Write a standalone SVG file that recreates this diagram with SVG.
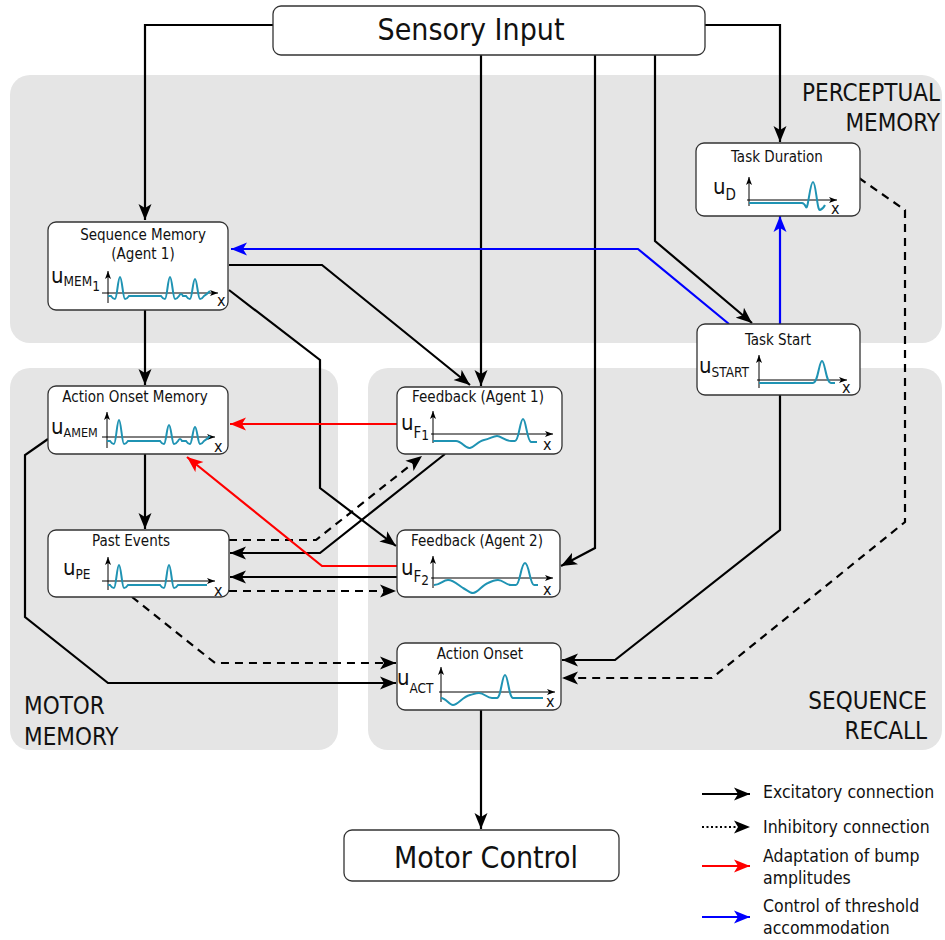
<svg xmlns="http://www.w3.org/2000/svg" width="945" height="940" viewBox="0 0 945 940">
<style>
text{font-family:"DejaVu Sans Condensed","DejaVu Sans",sans-serif;font-stretch:condensed;fill:#111}
.region{fill:#e5e5e5}
.rl{font-size:24px}
.node rect{fill:#fff;stroke:#333;stroke-width:1.3}
.big{font-size:30px}
.ttl{font-size:15px}
.u{font-size:22px}
.s{font-size:15px}
.ss{font-size:13.5px}
.ax{stroke:#000;stroke-width:1;fill:none;marker-end:url(#sa)}
.cv{stroke:#1f93b3;stroke-width:2;fill:none}
.xl{font-size:16px}
.ex{stroke:#000;stroke-width:2.2;fill:none;marker-end:url(#ab)}
.inh{stroke:#000;stroke-width:2.2;fill:none;stroke-dasharray:8,6;marker-end:url(#ab)}
.red{stroke:#f00;stroke-width:2.2;fill:none;marker-end:url(#ar)}
.blue{stroke:#00f;stroke-width:2.2;fill:none;marker-end:url(#abl)}
.lg{font-size:17.5px}
</style>
<defs>
<marker id="ab" markerWidth="17" markerHeight="14" refX="16" refY="7" orient="auto" markerUnits="userSpaceOnUse"><path d="M0,0.5 L16,7 L0,13.5 L4,7 z" fill="#000"/></marker>
<marker id="ar" markerWidth="17" markerHeight="14" refX="16" refY="7" orient="auto" markerUnits="userSpaceOnUse"><path d="M0,0.5 L16,7 L0,13.5 L4,7 z" fill="#f00"/></marker>
<marker id="abl" markerWidth="17" markerHeight="14" refX="16" refY="7" orient="auto" markerUnits="userSpaceOnUse"><path d="M0,0.5 L16,7 L0,13.5 L4,7 z" fill="#00f"/></marker>
<marker id="sa" markerWidth="9" markerHeight="7" refX="8" refY="3.5" orient="auto" markerUnits="userSpaceOnUse"><path d="M0,0.5 L8,3.5 L0,6.5 L2,3.5 z" fill="#000"/></marker>
</defs>

<g id="regions">
<rect class="region" x="10" y="75" width="932" height="268" rx="20"/>
<rect class="region" x="10" y="368" width="328" height="382" rx="20"/>
<rect class="region" x="368" y="368" width="574" height="382" rx="20"/>
<text class="rl" x="940" y="101" text-anchor="end">PERCEPTUAL</text>
<text class="rl" x="940" y="131" text-anchor="end">MEMORY</text>
<text class="rl" x="24" y="714">MOTOR</text>
<text class="rl" x="24" y="745">MEMORY</text>
<text class="rl" x="927" y="709" text-anchor="end">SEQUENCE</text>
<text class="rl" x="927" y="739" text-anchor="end">RECALL</text>
</g>

<g id="connectors">
<path class="ex" d="M273,25 H145 V220"/>
<path class="ex" d="M481,55 V386"/>
<path class="ex" d="M595,55 V548 L561,566"/>
<path class="ex" d="M655,55 V241 L752,323"/>
<path class="ex" d="M705,25 H780 V142"/>
<path class="ex" d="M229,265 H322 L470,385"/>
<path class="ex" d="M229,290 L320,360 V488 L396,546"/>
<path class="ex" d="M145,310 V385"/>
<path class="ex" d="M145,454 V529"/>
<path class="ex" d="M445,454 L320,553 H230"/>
<path class="ex" d="M397,577 H230"/>
<path class="ex" d="M48,439 L25,455 V617 L108,683 H396"/>
<path class="ex" d="M780,395 V530 L615,660 H562"/>
<path class="ex" d="M481,710 V829"/>
<path class="inh" d="M859,178 L905,210 V522 L712,678 H562"/>
<path class="inh" d="M229,540 H316 L422,456"/>
<path class="inh" d="M229,591 H396"/>
<path class="inh" d="M132,597 L215,663 H396"/>
<path class="red" d="M397,424 H230"/>
<path class="red" d="M397,566 H322 L187,457"/>
<path class="blue" d="M729,324 L638,249 H231"/>
<path class="blue" d="M780,324 V216"/>
</g>

<g id="sensory-input" class="node">
<rect x="273" y="6" width="432" height="49" rx="8"/>
<text class="big" x="471" y="40" text-anchor="middle">Sensory Input</text>
</g>

<g id="motor-control" class="node">
<rect x="344" y="830" width="275" height="51" rx="8"/>
<text class="big" x="486" y="868" text-anchor="middle">Motor Control</text>
</g>

<g id="task-duration" class="node">
<rect x="696" y="143" width="164" height="73" rx="8"/>
<text class="ttl" x="777" y="162" text-anchor="middle">Task Duration</text>
<text class="u" x="713" y="194">u<tspan class="s" dy="6">D</tspan></text>
<path class="ax" d="M749,206 V177"/>
<path class="ax" d="M747,200 H837"/>
<path class="cv" d="M749,203 H802 Q804,203 806,207 C808,211 810,182 813,182 C816,182 817,211 820,210 Q823,209 825,205"/>
<text class="xl" x="831" y="214">x</text>
</g>

<g id="sequence-memory" class="node">
<rect x="48" y="222" width="180" height="88" rx="8"/>
<text class="ttl" x="143" y="240" text-anchor="middle">Sequence Memory</text>
<text class="ttl" x="143" y="259" text-anchor="middle">(Agent 1)</text>
<text class="u" x="51" y="283">u<tspan class="ss" dy="3">MEM</tspan><tspan class="ss" dy="5">1</tspan></text>
<path class="ax" d="M108,303 V271"/>
<path class="ax" d="M102,293 H218"/>
<path class="cv" d="M108,296 L111,296 q2,3 4,3 c2,0 3,-22 5,-22 c2,0 3,22 5,22 q2,0 4,-3 L161,296 q2,3 4,3 c2,0 3,-22 5,-22 c2,0 3,22 5,22 q2,0 4,-3 q2,-4 4,0 L186,296 q2,3 4,3 c2,0 3,-20 5,-20 c2,0 3,20 5,20 q2,0 4,-3 q3,-2 6,-5"/>
<text class="xl" x="217" y="306">x</text>
</g>

<g id="task-start" class="node">
<rect x="697" y="324" width="163" height="71" rx="8"/>
<text class="ttl" x="778" y="345" text-anchor="middle">Task Start</text>
<text class="u" x="699" y="373">u<tspan class="ss" dy="4">START</tspan></text>
<path class="ax" d="M759,388 V355"/>
<path class="ax" d="M757,380 H847"/>
<path class="cv" d="M759,383 H813 C818,383 819,361 822,361 C825,361 826,383 831,383 L835,383"/>
<text class="xl" x="842" y="393">x</text>
</g>

<g id="action-onset-memory" class="node">
<rect x="48" y="386" width="180" height="68" rx="8"/>
<text class="ttl" x="135" y="402" text-anchor="middle">Action Onset Memory</text>
<text class="u" x="51" y="434">u<tspan class="ss" dy="3" style="font-size:12.5px">AMEM</tspan></text>
<path class="ax" d="M107,448 V412"/>
<path class="ax" d="M102,437 H215"/>
<path class="cv" d="M107,441 L110,441 q2,3 4,3 c2,0 3,-24 5,-24 c2,0 3,24 5,24 q2,0 4,-3 L160,441 q2,3 4,3 c2,0 3,-19 5,-19 c2,0 3,19 5,19 q2,0 4,-3 q2,-4 4,0 L186,441 q2,3 4,3 c2,0 3,-17 5,-17 c2,0 3,17 5,17 q2,0 4,-3 q3,-2 6,-5"/>
<text class="xl" x="214" y="452">x</text>
</g>

<g id="feedback-agent-1" class="node">
<rect x="397" y="387" width="165" height="67" rx="8"/>
<text class="ttl" x="478" y="402" text-anchor="middle">Feedback (Agent 1)</text>
<text class="u" x="401" y="430">u<tspan class="s" dy="8">F</tspan><tspan class="ss" dy="2">1</tspan></text>
<path class="ax" d="M433,443 V411"/>
<path class="ax" d="M431,434 H553"/>
<path class="cv" d="M433,441 H456 C462,441 465,449 470,448 C475,447 478,441 484,440 C490,439 493,436 497,436 C501,436 505,441 511,441 L515,441 C519,441 520,419 523,419 C526,419 527,441 531,442 L537,442"/>
<text class="xl" x="543" y="450">x</text>
</g>

<g id="past-events" class="node">
<rect x="48" y="530" width="181" height="67" rx="8"/>
<text class="ttl" x="131" y="546" text-anchor="middle">Past Events</text>
<text class="u" x="63" y="575">u<tspan class="ss" dy="4">PE</tspan></text>
<path class="ax" d="M108,590 V557"/>
<path class="ax" d="M102,581 H215"/>
<path class="cv" d="M108,585 L110,585 q2,3 4,3 c2,0 3,-23 5,-23 c2,0 3,23 5,23 q2,0 4,-3 L160,585 q2,3 4,3 c2,0 3,-23 5,-23 c2,0 3,23 5,23 q2,0 4,-3 L207,585"/>
<text class="xl" x="214" y="596">x</text>
</g>

<g id="feedback-agent-2" class="node">
<rect x="397" y="530" width="163" height="67" rx="8"/>
<text class="ttl" x="477" y="546" text-anchor="middle">Feedback (Agent 2)</text>
<text class="u" x="401" y="575">u<tspan class="s" dy="7">F</tspan><tspan class="ss" dy="3">2</tspan></text>
<path class="ax" d="M433,588 V556"/>
<path class="ax" d="M431,578 H553"/>
<path class="cv" d="M434,585 C440,585 443,580 448,580 C454,580 458,585 463,588 C467,590 470,593 473,593 C478,593 482,585 488,583 C492,581 495,580 498,580 C503,580 506,585 511,585 L516,585 C520,585 521,563 525,563 C529,563 530,585 534,585 L538,585"/>
<text class="xl" x="543" y="595">x</text>
</g>

<g id="action-onset" class="node">
<rect x="397" y="643" width="164" height="67" rx="8"/>
<text class="ttl" x="480" y="659" text-anchor="middle">Action Onset</text>
<text class="u" x="397" y="685">u<tspan class="ss" dy="8">ACT</tspan></text>
<path class="ax" d="M441,702 V667"/>
<path class="ax" d="M439,692 H555"/>
<path class="cv" d="M441,698 C446,698 449,705 453,705 C458,705 462,697 470,695 C474,694 476,693 479,693 C484,693 487,698 492,698 L497,698 C501,698 502,675 505,675 C508,675 509,698 513,698 L543,698"/>
<text class="xl" x="546" y="707">x</text>
</g>

<g id="legend">
<path class="ex" d="M702,794 H750"/>
<path d="M702,827 H738" stroke="#000" stroke-width="2.2" stroke-dasharray="2,2.5" fill="none"/>
<path d="M736,827 H750" stroke="#000" stroke-width="2.2" fill="none" marker-end="url(#ab)" stroke-opacity="0"/>
<path class="red" d="M702,866 H750"/>
<path class="blue" d="M702,917 H750"/>
<text class="lg" x="763" y="798">Excitatory connection</text>
<text class="lg" x="763" y="833">Inhibitory connection</text>
<text class="lg" x="763" y="862">Adaptation of bump</text>
<text class="lg" x="763" y="884">amplitudes</text>
<text class="lg" x="763" y="912">Control of threshold</text>
<text class="lg" x="763" y="934">accommodation</text>
</g>
</svg>
